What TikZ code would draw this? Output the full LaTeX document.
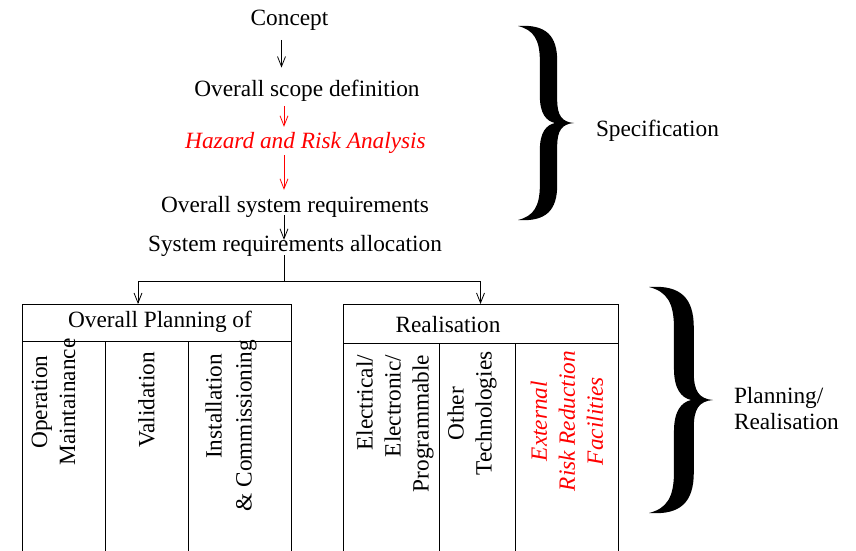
\documentclass[tikz,border=0pt]{standalone}
\usepackage{fontspec}
\setmainfont{Liberation Serif}
\usetikzlibrary{arrows.meta,calc}
\newcommand{\bracefill}[4]{%
  \fill[shift={(#1,#2)}, x=#3pt, y=-#4pt]
  (0,0) .. controls (0.5,-0.01) and (0.70,0.05) .. (0.70,0.18)
  -- (0.70,0.38)
  .. controls (0.70,0.46) and (0.78,0.495) .. (1,0.5)
  .. controls (0.78,0.505) and (0.70,0.54) .. (0.70,0.62)
  -- (0.70,0.82)
  .. controls (0.70,0.95) and (0.5,1.01) .. (0,1)
  .. controls (0.28,0.98) and (0.39,0.93) .. (0.39,0.82)
  -- (0.39,0.64)
  .. controls (0.39,0.55) and (0.5,0.51) .. (0.66,0.5)
  .. controls (0.5,0.49) and (0.39,0.45) .. (0.39,0.36)
  -- (0.39,0.18)
  .. controls (0.39,0.07) and (0.28,0.02) .. (0,0) -- cycle;}
\begin{document}
\begin{tikzpicture}[x=1pt,y=-1pt,
  every node/.style={inner sep=0pt, outer sep=0pt},
  txt/.style={font=\fontsize{23.3}{28}\selectfont},
  lbl/.style={txt, anchor=base},
  col/.style={txt, rotate=90, align=center},
  arr/.style={-{Straight Barb[length=10pt,width=8pt]}, line width=0.8pt},
  box/.style={line width=0.8pt},
  hz/.style={red, font=\fontsize{23.3}{28}\selectfont\itshape}
]
\useasboundingbox (0,0) rectangle (856,551);

% top chain
\node[lbl] (concept) at (289.5,26) {Concept};
\node[lbl] (scope) at (307,96) {Overall scope definition};
\node[hz, anchor=base] (hazard) at (305.5,148) {Hazard and Risk Analysis};
\node[lbl] (sysreq) at (295,212) {Overall system requirements};
\node[lbl] (alloc) at (295,251) {System requirements allocation};

\coordinate (ax1) at (281.5,0);
\coordinate (ax) at (284,0);
\coordinate (split) at (284,281);

% boxes
\node[draw, box, minimum width=269pt, minimum height=37pt, anchor=north west] (planhead) at (22,304) {};
\node[lbl] (plantitle) at (160,327.7) {Overall Planning of};
\node[draw, box, minimum width=275pt, minimum height=39pt, anchor=north west] (realhead) at (343,304) {};
\node[lbl] (realtitle) at (448,332.5) {Realisation};

\draw[box] (planhead.south west) -- (22,552);
\draw[box] (planhead.south east) -- (291,552);
\draw[box] (105,341) -- (105,552);
\draw[box] (188,341) -- (188,552);
\draw[box] (realhead.south west) -- (343,552);
\draw[box] (realhead.south east) -- (618,552);
\draw[box] (439,343) -- (439,552);
\draw[box] (515,343) -- (515,552);

% column texts
\node[col] (opm) at (53.5,402) {Operation\\Maintainance};
\node[col] (val) at (146.5,400) {Validation};
\node[col, font=\fontsize{23.3}{30}\selectfont] (inst) at (231,425.5) {\hspace*{38pt}Installation\\\& Commissioning};
\node[col, align=right] (elec) at (395,423.5) {Electrical/\\Electronic/\\Programmable};
\node[col, align=center] (othertech) at (472,413.5) {Other\\Technologies};
\node[col, hz] (ext) at (567,421) {External\\Risk Reduction\\Facilities};

% connectors
\draw[arr] ($(concept.south -| ax1)+(0,9)$) -- ($(scope.north -| ax1)+(0,-12)$);
\draw[arr, red] ($(scope.south -| ax)+(0,5)$) -- ($(hazard.north -| ax)+(0,-5)$);
\draw[arr, red] ($(hazard.south -| ax)+(0,2)$) -- ($(sysreq.north -| ax)+(0,-6)$);
\draw[arr] ($(sysreq.south -| ax)+(0,-2)$) -- ($(alloc.north -| ax)+(0,5)$);
\draw[box] ($(alloc.south -| ax)+(0,-1)$) -- (split);
\draw[arr] (split) -| ([xshift=-18.5pt]planhead.north);
\draw[arr] (split) -| (realhead.north);

% braces and labels
\bracefill{518}{26}{56}{194}
\bracefill{649}{287}{64}{226}
\node[lbl, anchor=base west] (spec) at (596,136) {Specification};
\node[txt, font=\fontsize{23.3}{26}\selectfont, align=left, anchor=north west] (planreal) at (734,387) {Planning/\\Realisation};
\end{tikzpicture}
\end{document}
